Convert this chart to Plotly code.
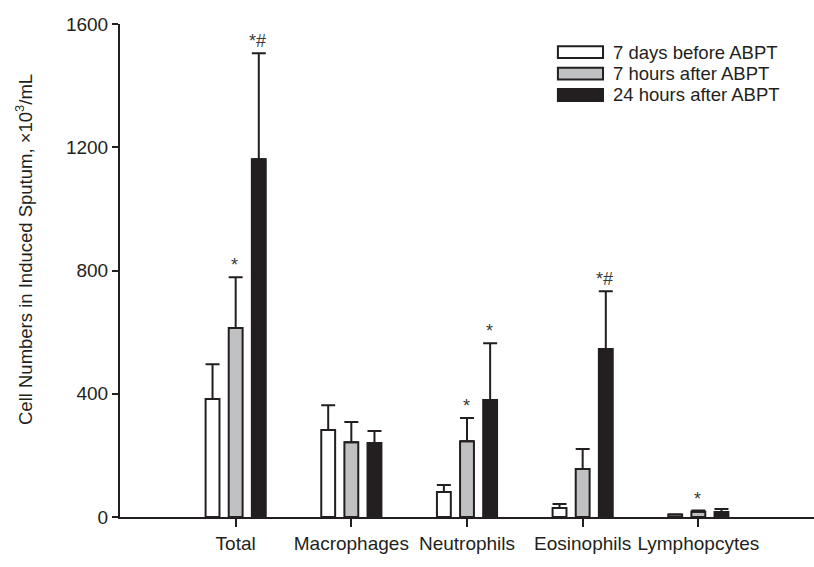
import plotly.graph_objects as go

categories = ["Total", "Macrophages", "Neutrophils", "Eosinophils", "Lymphopcytes"]
series_names = ["7 days before ABPT", "7 hours after ABPT", "24 hours after ABPT"]

before_7d = [383, 282, 81, 29, 8]
after_7h = [613, 243, 246, 156, 17]
after_24h = [1161, 240, 380, 545, 16]

before_7d_sd = [113, 81, 23, 13, 0]
after_7h_sd = [165, 65, 75, 65, 4]
after_24h_sd = [344, 39, 184, 188, 10]

# significance markers above each bar ("" = none)
before_7d_sig = ["", "", "", "", ""]
after_7h_sig = ["*", "", "*", "", "*"]
after_24h_sig = ["*#", "", "*", "*#", ""]

y_ticks = [0, 400, 800, 1200, 1600]

INK = "#231f20"
FONT = "Liberation Sans, Arial, sans-serif"
fills = ["#ffffff", "#c0c1c3", INK]

values = [before_7d, after_7h, after_24h]
errors = [before_7d_sd, after_7h_sd, after_24h_sd]
sigs = [before_7d_sig, after_7h_sig, after_24h_sig]

fig = go.Figure()
for name, vals, errs, fill in zip(series_names, values, errors, fills):
    fig.add_trace(go.Bar(
        name=name,
        x=categories,
        y=vals,
        marker=dict(color=fill, line=dict(color=INK, width=2)),
        error_y=dict(type="data", symmetric=False, array=errs,
                     arrayminus=[0] * len(errs), color=INK,
                     thickness=2, width=7),
        showlegend=False,
    ))

# significance annotations over the error-bar caps
slot = 0.2
for k, (vals, errs, marks) in enumerate(zip(values, errors, sigs)):
    for i, (v, e, m) in enumerate(zip(vals, errs, marks)):
        if m:
            fig.add_annotation(
                x=i + (k - 1) * slot, y=v + e, text=m, showarrow=False,
                yanchor="bottom", yshift=0, xshift=-1,
                font=dict(family=FONT, size=18, color="#3a3a3a"),
            )

# legend: wide swatches with labels
leg_top = 0.943
leg_step = 0.0435
for k, (name, fill) in enumerate(zip(series_names, fills)):
    yc = leg_top - k * leg_step
    fig.add_shape(type="rect", xref="paper", yref="paper",
                  x0=0.631, x1=0.696, y0=yc - 0.012, y1=yc + 0.012,
                  fillcolor=fill, line=dict(color=INK, width=2))
    fig.add_annotation(xref="paper", yref="paper", x=0.708, y=yc,
                       text=name, showarrow=False, xanchor="left",
                       yanchor="middle",
                       font=dict(family=FONT, size=18.5, color=INK))

# y-axis title
fig.add_annotation(xref="paper", yref="paper", x=-0.138, y=0.542,
                   text="Cell Numbers in Induced Sputum, \u00d710<sup>3</sup>/mL",
                   textangle=-90, showarrow=False, xanchor="center",
                   yanchor="middle",
                   font=dict(family=FONT, size=18.5, color=INK))

fig.update_layout(
    width=814, height=567,
    margin=dict(l=120, r=0, t=24, b=50),
    paper_bgcolor="white", plot_bgcolor="white",
    barmode="group", bargap=0.4, bargroupgap=0.4,
    font=dict(family=FONT, size=19, color=INK),
    xaxis=dict(
        range=[-1.0, 5.0], showline=True, linecolor=INK, linewidth=2,
        ticks="outside", ticklen=8, tickwidth=2, tickcolor=INK,
        tickangle=0,
        tickfont=dict(family=FONT, size=19, color=INK),
        showgrid=False, zeroline=False,
    ),
    yaxis=dict(
        range=[0, 1600], tickvals=y_ticks, showline=True, linecolor=INK,
        linewidth=2, ticks="outside", ticklen=6, tickwidth=2, tickcolor=INK,
        tickfont=dict(family=FONT, size=19, color=INK),
        showgrid=False, zeroline=False,
    ),
)

fig.write_html("out.html")
